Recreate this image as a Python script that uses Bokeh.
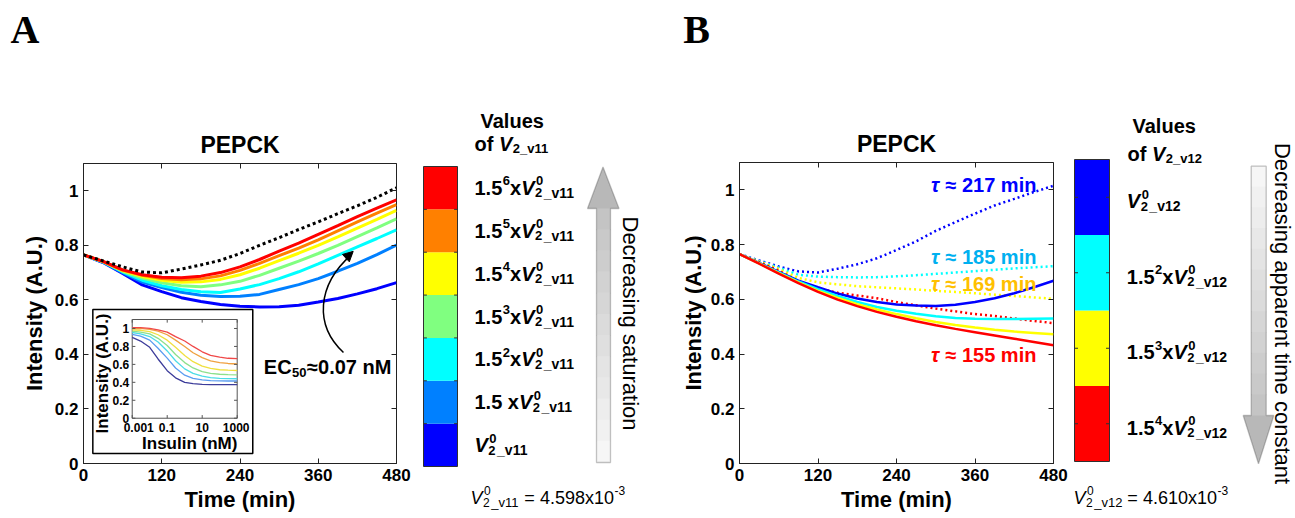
import math
from bokeh.plotting import figure
from bokeh.models import (Range1d, FixedTicker, NumeralTickFormatter, LinearAxis, Label,
                          PolyAnnotation, Arrow, NormalHead)
from bokeh.layouts import row, column
from bokeh.embed import file_html
from bokeh.resources import INLINE
from bokeh.core.properties import value

SANS = "Liberation Sans"
SERIF = "Liberation Serif"

# ------------------------------------------------------------------ data
time_min = [0, 30, 60, 90, 120, 150, 180, 210, 240, 270, 300, 330, 360, 390, 420, 450, 480]
time_ticks = [0, 120, 240, 360, 480]
intensity_ticks = [0, 0.2, 0.4, 0.6, 0.8, 1.0]

# Panel A: PEPCK for increasing V2_v11
a_blue = [.765, .737, .697, .655, .630, .608, .594, .583, .577, .574, .575, .580, .592, .605, .622, .641, .663]
a_lightblue = [.765, .738, .700, .665, .645, .628, .617, .612, .613, .620, .638, .656, .678, .705, .734, .766, .801]
a_cyan = [.765, .739, .703, .672, .652, .638, .630, .627, .640, .656, .678, .703, .732, .763, .794, .825, .857]
a_green = [.765, .740, .705, .680, .663, .652, .648, .655, .668, .690, .716, .742, .770, .800, .832, .864, .897]
a_yellow = [.765, .740, .707, .686, .672, .665, .666, .675, .692, .716, .744, .771, .800, .831, .863, .895, .928]
a_orange = [.765, .741, .709, .690, .678, .674, .677, .688, .708, .734, .762, .790, .820, .853, .886, .918, .949]
a_red = [.765, .741, .710, .692, .683, .681, .687, .700, .721, .748, .779, .808, .840, .872, .905, .936, .967]
a_saturated = [.765, .743, .721, .702, .699, .713, .728, .745, .770, .800, .828, .858, .886, .916, .945, .976, 1.011]
a_series = [a_blue, a_lightblue, a_cyan, a_green, a_yellow, a_orange, a_red]
a_colors = ["#0000FF", "#0080FF", "#00FFFF", "#80FF80", "#FFFF00", "#FF8000", "#FF0000"]
a_bases = ["", "1.5 ", "1.5", "1.5", "1.5", "1.5", "1.5"]
a_exponents = ["", "", "2", "3", "4", "5", "6"]

# Inset: dose response vs insulin
insulin_nM = [0.001, 0.003, 0.01, 0.03, 0.1, 0.3, 1, 3, 10, 30, 100, 300, 1000]
inset_navy = [.90, .86, .79, .66, .53, .45, .40, .385, .377, .375, .374, .374, .374]
inset_lightblue = [.935, .915, .87, .78, .67, .56, .48, .445, .428, .42, .417, .415, .415]
inset_cyan = [.955, .94, .91, .85, .75, .64, .55, .50, .47, .452, .445, .441, .44]
inset_green = [.97, .96, .94, .89, .81, .71, .62, .56, .52, .50, .49, .485, .483]
inset_yellow = [.985, .98, .965, .93, .87, .79, .70, .63, .58, .555, .54, .535, .532]
inset_orange = [1.0, 1.0, .99, .97, .93, .87, .80, .73, .675, .64, .62, .61, .604]
inset_red = [1.01, 1.01, 1.0, .985, .96, .91, .86, .80, .74, .70, .68, .668, .664]
inset_series = [inset_navy, inset_lightblue, inset_cyan, inset_green, inset_yellow, inset_orange, inset_red]
inset_colors = ["#3C3C9A", "#5A9CF0", "#4CDCE6", "#8CE08C", "#F0E040", "#F0A040", "#F04848"]
insulin_ticks = [0.001, 0.1, 10, 1000]
insulin_tick_labels = ["0.001", "0.1", "10", "1000"]
inset_y_ticks = [0, 0.2, 0.4, 0.6, 0.8, 1.0]
inset_y_tick_labels = ["0", "0.2", "0.4", "0.6", "0.8", "1"]

# Panel B: PEPCK for increasing V2_v12 (solid) and reference (dotted)
b_blue_solid = [.765, .733, .700, .668, .644, .621, .603, .590, .581, .577, .576, .580, .590, .604, .622, .644, .668]
b_cyan_solid = [.765, .732, .698, .665, .637, .612, .590, .572, .558, .547, .538, .532, .529, .528, .528, .529, .530]
b_yellow_solid = [.765, .731, .696, .662, .631, .605, .582, .563, .546, .531, .517, .506, .497, .489, .482, .477, .472]
b_red_solid = [.765, .730, .694, .659, .627, .599, .575, .554, .536, .520, .505, .492, .480, .468, .456, .444, .432]
b_blue_dotted = [.765, .742, .720, .702, .698, .712, .728, .750, .780, .812, .850, .882, .913, .943, .967, .992, 1.015]
b_cyan_dotted = [.765, .740, .716, .690, .683, .681, .680, .681, .684, .688, .693, .698, .703, .708, .713, .717, .721]
b_yellow_dotted = [.765, .738, .711, .678, .662, .655, .648, .644, .640, .636, .631, .627, .622, .617, .612, .607, .602]
b_red_dotted = [.765, .736, .705, .665, .640, .624, .614, .604, .590, .578, .566, .556, .546, .539, .530, .521, .513]
b_solid = [b_blue_solid, b_cyan_solid, b_yellow_solid, b_red_solid]
b_dotted = [b_blue_dotted, b_cyan_dotted, b_yellow_dotted, b_red_dotted]
b_colors = ["#0000FF", "#00FFFF", "#FFFF00", "#FF0000"]
b_bases = ["", "1.5", "1.5", "1.5"]
b_exponents = ["", "2", "3", "4"]
b_tau_min = [217, 185, 169, 155]
b_tau_colors = ["#0000FF", "#00B0F0", "#FFC000", "#FF0000"]

# ------------------------------------------------------------------ helpers
BOLD_W = {'.': 278, ' ': 278, 'x': 556, 'V': 667, '_': 556, 'v': 556, 'o': 611, 'f': 333,
          '=': 584, 'E': 667, 'C': 722, 'n': 611, 'M': 833, 'm': 889, 'i': 278, '-': 333}
REG_W = {'.': 278, ' ': 278, 'x': 500, 'V': 667, '_': 556, 'v': 500, '=': 584, '-': 333}

ROW_H = 448          # height of the row of figures
TOP_H = 518 - ROW_H  # strip above holding the panel letters


def adv(text, size, bold=True):
    table = BOLD_W if bold else REG_W
    return sum(table.get(c, 556) for c in text) * size / 1000.0


def put(p, x, y, text, dx, dy, size, style="bold", color="black", font=SANS,
        align="left", baseline="middle", angle=0.0):
    p.add_layout(Label(x=x, y=y, x_offset=dx, y_offset=dy, text=text, text_font=font,
                       text_font_size=f"{size}px", text_font_style=style, text_color=color,
                       text_align=align, text_baseline=baseline, angle=angle))


def v_symbol(p, x, y, dx, dy, base, exponent, suffix, size, small, bold=True, zero=True):
    """Compose e.g. 1.5^6 x V_2^0 _v11 from pieces; dy is the vertical centre offset."""
    st = "bold" if bold else "normal"
    ist = "bold italic" if bold else "italic"
    cur = dx
    if base:
        put(p, x, y, base, cur, dy, size, st)
        cur += adv(base, size, bold)
        if exponent:
            put(p, x, y, exponent, cur + 0.5, dy + 7, small, st)
            cur += adv(exponent, small, bold) + 0.5
        put(p, x, y, "x", cur, dy, size, st)
        cur += adv("x", size, bold)
    put(p, x, y, "V", cur, dy, size, ist)
    cur += adv("V", size, bold)
    if zero:
        put(p, x, y, "2", cur + 0.5, dy - 5, small, st)
        put(p, x, y, "0", cur + 1.5, dy + 7, small, st)
        cur += adv("2", small, bold) + 2
        put(p, x, y, suffix, cur, dy - 5, small + 1, st)
        cur += adv(suffix, small + 1, bold)
    else:
        put(p, x, y, "2" + suffix, cur + 0.5, dy - 5, small, st)
        cur += adv("2" + suffix, small, bold)
    return cur


def style_axis(ax):
    ax.major_tick_in = 5
    ax.major_tick_out = 0
    ax.minor_tick_line_color = None
    ax.axis_line_color = "#222222"
    ax.major_tick_line_color = "#222222"
    ax.major_label_text_font = SANS
    ax.major_label_text_font_style = "bold"
    ax.major_label_text_font_size = "17px"
    ax.major_label_text_color = "black"
    ax.axis_label_text_font = SANS
    ax.axis_label_text_font_style = "bold"
    ax.axis_label_text_font_size = "22px"
    ax.axis_label_text_color = "black"


def main_figure(width, b_left, frame_w, b_top, frame_h, ylabel_standoff):
    p = figure(width=width, height=ROW_H, x_range=Range1d(0, 480), y_range=Range1d(0, 1.1),
               output_backend="svg", toolbar_location=None, frame_align=False,
               min_border_left=b_left, min_border_right=width - b_left - frame_w,
               min_border_top=b_top, min_border_bottom=ROW_H - b_top - frame_h,
               x_axis_label="Time (min)", y_axis_label="Intensity (A.U.)", title="PEPCK")
    p.title.align = "center"
    p.title.text_font = SANS
    p.title.text_font_size = "23px"
    p.title.text_font_style = "bold"
    p.title.text_color = "black"
    p.title.standoff = 11
    p.xgrid.visible = False
    p.ygrid.visible = False
    p.outline_line_color = "#222222"
    p.xaxis.ticker = FixedTicker(ticks=time_ticks)
    p.yaxis.ticker = FixedTicker(ticks=intensity_ticks)
    p.yaxis.formatter = NumeralTickFormatter(format="0.[0]")
    style_axis(p.xaxis[0])
    style_axis(p.yaxis[0])
    p.xaxis.major_label_standoff = 5
    p.xaxis.axis_label_standoff = 3
    p.yaxis.major_label_standoff = 5
    p.yaxis.axis_label_standoff = ylabel_standoff
    for loc, ticks in (("above", time_ticks), ("right", intensity_ticks)):
        ax = LinearAxis(ticker=FixedTicker(ticks=ticks), major_label_text_font_size="0px",
                        major_label_text_color=None,
                        major_tick_in=5, major_tick_out=0, minor_tick_line_color=None,
                        axis_line_color=None, major_tick_line_color="#222222",
                        major_label_standoff=0)
        p.add_layout(ax, loc)
    return p


def cb_figure(width, cb_left, cb_w, cb_top, cb_h, n):
    """Figure whose frame is the whole canvas; data box [0,1]x[0,n] is the colour bar."""
    bottom_px = ROW_H - cb_top - cb_h
    p = figure(width=width, height=ROW_H,
               x_range=Range1d(-cb_left / cb_w, (width - cb_left) / cb_w),
               y_range=Range1d(-bottom_px / cb_h * n, n + cb_top / cb_h * n),
               x_axis_type=None, y_axis_type=None, output_backend="svg", toolbar_location=None,
               min_border=0, frame_align=False)
    p.outline_line_color = None
    return p


def block_arrow(p, pts, shaft, head, slices, c_from, c_to, conv):
    (sx0, sx1, sy0, sy1) = shaft
    for k in range(slices):
        t0 = sy0 + (sy1 - sy0) * k / slices
        t1 = sy0 + (sy1 - sy0) * (k + 1) / slices
        f = k / (slices - 1)
        c = tuple(int(round(c_from[j] + (c_to[j] - c_from[j]) * f)) for j in range(3))
        xs, ys = zip(*[conv(a, b) for a, b in ((sx0, t0 - 0.5), (sx1, t0 - 0.5), (sx1, t1 + 0.5), (sx0, t1 + 0.5))])
        p.add_layout(PolyAnnotation(xs=list(xs), ys=list(ys), fill_color="#%02x%02x%02x" % c,
                                    fill_alpha=1, line_color=None))
    xs, ys = zip(*[conv(a, b) for a, b in head])
    p.add_layout(PolyAnnotation(xs=list(xs), ys=list(ys), fill_color="#b8b8b8", fill_alpha=1,
                                line_color=None))
    xs, ys = zip(*[conv(a, b) for a, b in pts])
    p.add_layout(PolyAnnotation(xs=list(xs), ys=list(ys), fill_color=None, fill_alpha=0,
                                line_color="#3a3a3a", line_width=1.3))


def equation(p, dx, dy, suffix, number):
    end = v_symbol(p, 0, 0, dx, dy, "", "", suffix, 18, 12, bold=False)
    start = end + adv(" ", 18, False)
    put(p, 0, 0, "= " + number + "x10", start, dy, 18, "normal")
    put(p, 0, 0, "-3", start + adv("= " + number + "x10", 18, False) + 0.5, dy + 7, 12, "normal")


# ------------------------------------------------------------------ top strip (panel letters)
strip = figure(width=1295, height=TOP_H, x_range=Range1d(0, 1295), y_range=Range1d(TOP_H, 0),
               x_axis_type=None, y_axis_type=None, output_backend="svg", toolbar_location=None,
               min_border=0, frame_align=False)
strip.outline_line_color = None
strip.text(x=[10, 682.7], y=[29, 29], text=["A", "B"], text_font=value(SERIF), text_font_style="bold",
           text_font_size="40px", text_align="left", text_baseline="middle", text_color="black")

# ------------------------------------------------------------------ panel A
pa = main_figure(420, 83, 313, 163 - TOP_H, 300, 5)
for ys, col in zip(a_series, a_colors):
    pa.line(time_min, ys, line_color=col, line_width=3)
pa.line(time_min, a_saturated, line_color="black", line_width=3, line_dash="3 3")

# inset (log10 of insulin on a linear sub-coordinate system)
log_ins = [math.log10(v) for v in insulin_nM]
log_ticks = [math.log10(v) for v in insulin_ticks]
pa.quad(left=[14.3], right=[259.6], bottom=[0.037], top=[0.565], fill_color="white",
        line_color="black", line_width=1.5)
sub = pa.subplot(x_source=Range1d(-3, 3), y_source=Range1d(0, 1.1),
                 x_target=Range1d(74.7, 235.7), y_target=Range1d(0.166, 0.528))
sub.quad(left=[-3], right=[3], bottom=[0], top=[1.1], fill_color=None,
         line_color="#555555", line_width=1)
for ys, col in zip(inset_series, inset_colors):
    sub.line(log_ins, ys, line_color=col, line_width=1.3)
sub.segment(x0=log_ticks, x1=log_ticks, y0=[0] * 4, y1=[0.035] * 4, line_color="#555555")
sub.segment(x0=log_ticks, x1=log_ticks, y0=[1.1] * 4, y1=[1.065] * 4, line_color="#555555")
sub.segment(x0=[-3] * 6, x1=[-2.82] * 6, y0=inset_y_ticks, y1=inset_y_ticks, line_color="#555555")
sub.segment(x0=[3] * 6, x1=[2.82] * 6, y0=inset_y_ticks, y1=inset_y_ticks, line_color="#555555")
sub.text(x=log_ticks, y=[0] * 4, text=insulin_tick_labels, x_offset=[6.5, 0, 0, -1], y_offset=9,
         text_font=value(SANS), text_font_style="bold", text_font_size="12px",
         text_align="center", text_baseline="middle")
sub.text(x=[-3] * 6, y=inset_y_ticks, text=inset_y_tick_labels, x_offset=-3,
         text_font=value(SANS), text_font_style="bold", text_font_size="12px",
         text_align="right", text_baseline="middle")
sub.text(x=[0], y=[0], text=["Insulin (nM)"], x_offset=5, y_offset=25,
         text_font=value(SANS), text_font_style="bold", text_font_size="17px",
         text_align="center", text_baseline="middle")
sub.text(x=[-3], y=[0.55], text=["Intensity (A.U.)"], x_offset=-30, y_offset=4.6, angle=math.pi / 2,
         text_font=value(SANS), text_font_style="bold", text_font_size="17px",
         text_align="center", text_baseline="middle")

# EC50 annotation
pa.bezier(x0=[398.7], y0=[0.407], x1=[411.0], y1=[0.766], cx0=[354.2], cy0=[0.506],
          cx1=[357.3], cy1=[0.653], line_color="black", line_width=1.5)
pa.add_layout(Arrow(end=NormalHead(size=10, fill_color="black", line_color="black"),
                    x_start=402.0, y_start=0.752, x_end=413.6, y_end=0.778,
                    line_color="black", line_width=1.5))
put(pa, 276.5, 0.353, "EC", 0, 0, 20)
put(pa, 276.5, 0.353, "50", adv("EC", 20) + 0.5, -5, 13)
put(pa, 276.5, 0.353, "\u22480.07 nM", adv("EC", 20) + adv("50", 13) + 1, 0, 20)

# ------------------------------------------------------------------ colorbar A
ca = cb_figure(240, 423 - 420, 34, 166 - TOP_H, 300, 7)
ca.quad(left=0, right=1, bottom=list(range(7)), top=[i + 1 for i in range(7)],
        fill_color=a_colors, line_color=None)
ca.quad(left=[0], right=[1], bottom=[0], top=[7], fill_color=None, line_color="#303030", line_width=1)
ca.segment(x0=[0] * 6, x1=[0.1] * 6, y0=list(range(1, 7)), y1=list(range(1, 7)), line_color="#303030")
ca.segment(x0=[1] * 6, x1=[0.9] * 6, y0=list(range(1, 7)), y1=list(range(1, 7)), line_color="#303030")
for i in range(7):
    v_symbol(ca, 1, i + 0.5, 17, 0, a_bases[i], a_exponents[i], "_v11", 20, 13)
put(ca, 1, 7, "Values", 23, 46, 20)
cur = 17
put(ca, 1, 7, "of ", cur, 23, 20)
cur += adv("of ", 20)
v_symbol(ca, 1, 7, cur, 23, "", "", "_v11", 20, 13, zero=False)
equation(ca, 47, -31, "_v11", "4.598")


def conv_a(sx, sy):
    return (sx - 423) / 34.0, 7 * (466 - sy) / 300.0


block_arrow(ca,
            pts=[(602.5, 166.5), (618.5, 208), (610, 208), (610, 462), (596, 462), (596, 208), (587, 208)],
            shaft=(596, 610, 208, 462), head=[(602.5, 166.5), (618.5, 208), (587, 208)],
            slices=12, c_from=(196, 196, 196), c_to=(246, 246, 246), conv=conv_a)
xa, ya = conv_a(630, 323)
put(ca, xa, ya, "Decreasing saturation", 0, 0, 22, "normal", align="center", angle=-math.pi / 2)

# ------------------------------------------------------------------ panel B
pb = main_figure(409, 79, 314, 162 - TOP_H, 301, 2)
for ys, col in zip(b_dotted, b_colors):
    pb.line(time_min, ys, line_color=col, line_width=2.5, line_dash="2 3")
for ys, col in zip(b_solid, b_colors):
    pb.line(time_min, ys, line_color=col, line_width=2.5)
tau_label_y = [1.016, 0.754, 0.657, 0.395]
for tau, col, ty in zip(b_tau_min, b_tau_colors, tau_label_y):
    put(pb, 292.6, ty, "\u03c4", 0, 0, 20, "bold italic", color=col)
    put(pb, 292.6, ty, f"\u2248 {tau} min", 14.5, 0, 20, "bold", color=col)

# ------------------------------------------------------------------ colorbar B
cbf = cb_figure(226, 1074 - 1069, 35, 159 - TOP_H, 302, 4)
order_b = [3, 2, 1, 0]  # bottom-to-top: red, yellow, cyan, blue
cbf.quad(left=0, right=1, bottom=[0, 1, 2, 3], top=[1, 2, 3, 4],
         fill_color=[b_colors[k] for k in order_b], line_color=None)
cbf.quad(left=[0], right=[1], bottom=[0], top=[4], fill_color=None, line_color="#303030", line_width=1)
cbf.segment(x0=[0] * 4, x1=[0.1] * 4, y0=[0.5, 1.5, 2.5, 3.5], y1=[0.5, 1.5, 2.5, 3.5], line_color="#303030")
cbf.segment(x0=[1] * 4, x1=[0.9] * 4, y0=[0.5, 1.5, 2.5, 3.5], y1=[0.5, 1.5, 2.5, 3.5], line_color="#303030")
for pos, k in enumerate(order_b):
    v_symbol(cbf, 1, pos + 0.5, 17.3, -4, b_bases[k], b_exponents[k], "_v12", 20, 13)
put(cbf, 1, 4, "Values", 23, 34, 20)
cur = 18
put(cbf, 1, 4, "of ", cur, 6, 20)
cur += adv("of ", 20)
v_symbol(cbf, 1, 4, cur, 6, "", "", "_v12", 20, 13, zero=False)
equation(cbf, -1, -36, "_v12", "4.610")


def conv_b(sx, sy):
    return (sx - 1074) / 35.0, 4 * (461 - sy) / 302.0


block_arrow(cbf,
            pts=[(1250.7, 165.7), (1265.7, 165.7), (1265.7, 415), (1273.3, 415), (1258, 463.3),
                 (1242.7, 415), (1250.7, 415)],
            shaft=(1250.7, 1265.7, 165.7, 415), head=[(1273.3, 415), (1258, 463.3), (1242.7, 415)],
            slices=12, c_from=(246, 246, 246), c_to=(196, 196, 196), conv=conv_b)
xb, yb = conv_b(1281.7, 313)
put(cbf, xb, yb, "Decreasing apparent time constant", 0, 0, 22, "normal", align="center",
    angle=-math.pi / 2)

layout = column(strip, row(pa, ca, pb, cbf))
open("out.html", "w").write(file_html(layout, INLINE))
